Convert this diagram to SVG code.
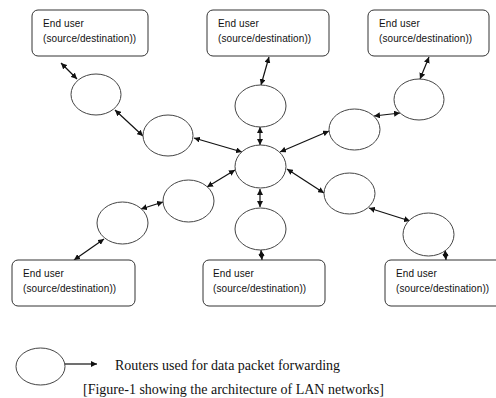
<svg xmlns="http://www.w3.org/2000/svg" width="496" height="398" viewBox="0 0 496 398">
<defs>
<style>
.box{fill:#fff;stroke:#333;stroke-width:1}
.rt{fill:#fff;stroke:#444;stroke-width:1}
.lbl{font-family:"Liberation Sans",Arial,sans-serif;font-size:10px;fill:#111;letter-spacing:0.1px}
.cap{font-family:"Liberation Serif","Times New Roman",serif;font-size:14px;fill:#111}
.con{stroke:#111;stroke-width:1.2;fill:none;marker-start:url(#ah);marker-end:url(#ah)}
</style>
<marker id="ah" viewBox="0 0 10 10" refX="10" refY="5" markerWidth="6" markerHeight="6" markerUnits="userSpaceOnUse" orient="auto-start-reverse">
<path d="M0,0 L10,5 L0,10 z" fill="#111"/>
</marker>
</defs>
<rect width="496" height="398" fill="#fff"/>
<g id="connectors">
<line class="con" x1="61" y1="63" x2="77" y2="79"/>
<line class="con" x1="115" y1="110" x2="143" y2="136"/>
<line class="con" x1="194" y1="138" x2="242" y2="152"/>
<line class="con" x1="235" y1="170" x2="207" y2="187"/>
<line class="con" x1="163" y1="202" x2="141" y2="209"/>
<line class="con" x1="104" y1="239" x2="74" y2="260"/>
<line class="con" x1="269" y1="57" x2="261" y2="85"/>
<line class="con" x1="260" y1="127" x2="260" y2="145"/>
<line class="con" x1="280" y1="152" x2="329" y2="131"/>
<line class="con" x1="374" y1="116" x2="400" y2="113"/>
<line class="con" x1="429" y1="57" x2="420" y2="79"/>
<line class="con" x1="287" y1="169" x2="324" y2="193"/>
<line class="con" x1="369" y1="208" x2="410" y2="221"/>
<line class="con" x1="445" y1="250" x2="446" y2="260"/>
<line class="con" x1="260" y1="189" x2="260" y2="207"/>
<line class="con" x1="261" y1="250" x2="262" y2="260"/>
</g>
<g id="user-top-left"><rect class="box" x="32" y="10" width="116" height="46" rx="6"/><text class="lbl" x="43" y="27">End user</text><text class="lbl" x="43" y="42">(source/destination))</text></g>
<g id="user-top-middle"><rect class="box" x="207" y="10" width="122" height="46" rx="6"/><text class="lbl" x="218" y="27">End user</text><text class="lbl" x="218" y="42">(source/destination))</text></g>
<g id="user-top-right"><rect class="box" x="368" y="10" width="121" height="46" rx="6"/><text class="lbl" x="379" y="27">End user</text><text class="lbl" x="379" y="42">(source/destination))</text></g>
<g id="user-bottom-left"><rect class="box" x="12" y="260" width="123" height="46" rx="6"/><text class="lbl" x="23" y="277">End user</text><text class="lbl" x="23" y="292">(source/destination))</text></g>
<g id="user-bottom-middle"><rect class="box" x="203" y="260" width="122" height="46" rx="6"/><text class="lbl" x="213" y="277">End user</text><text class="lbl" x="213" y="292">(source/destination))</text></g>
<g id="user-bottom-right"><rect class="box" x="385" y="260" width="122" height="46" rx="6"/><text class="lbl" x="396" y="277">End user</text><text class="lbl" x="396" y="292">(source/destination))</text></g>
<g id="router-center"><ellipse class="rt" cx="260.5" cy="166.5" rx="25.5" ry="21.5"/></g>
<g id="router-1"><ellipse class="rt" cx="96" cy="94.5" rx="25" ry="20.5"/></g>
<g id="router-2"><ellipse class="rt" cx="168" cy="135.5" rx="25" ry="20.5"/></g>
<g id="router-3"><ellipse class="rt" cx="260.5" cy="106" rx="25.5" ry="21"/></g>
<g id="router-4"><ellipse class="rt" cx="354.5" cy="129.5" rx="25.5" ry="20.5"/></g>
<g id="router-5"><ellipse class="rt" cx="419" cy="99.5" rx="25" ry="20.5"/></g>
<g id="router-6"><ellipse class="rt" cx="188.5" cy="201" rx="25.5" ry="21"/></g>
<g id="router-7"><ellipse class="rt" cx="122.5" cy="223" rx="25.5" ry="21"/></g>
<g id="router-8"><ellipse class="rt" cx="260.5" cy="229" rx="25.5" ry="21"/></g>
<g id="router-9"><ellipse class="rt" cx="349.5" cy="193.5" rx="25.5" ry="20.5"/></g>
<g id="router-10"><ellipse class="rt" cx="428.5" cy="234.5" rx="25.5" ry="21.5"/></g>
<g id="legend">
<ellipse class="rt" cx="40.5" cy="366.5" rx="24.5" ry="18.5"/>
<line x1="65" y1="364" x2="97" y2="364" stroke="#111" stroke-width="1.2" marker-end="url(#ah)"/>
<text class="cap" x="115" y="370">Routers used for data packet forwarding</text>
<text class="cap" x="83" y="394">[Figure-1 showing the architecture of LAN networks]</text>
</g>
</svg>
